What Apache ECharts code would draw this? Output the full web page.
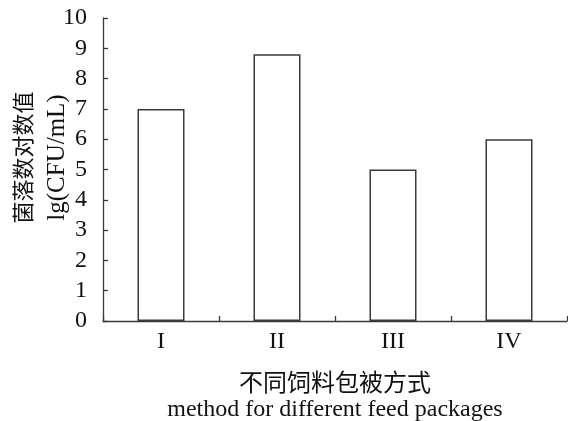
<!DOCTYPE html>
<html>
<head>
<meta charset="utf-8">
<script src="https://cdn.jsdelivr.net/npm/echarts@6/dist/echarts.min.js"></script>
<style>html,body{margin:0;padding:0;background:#fff;}#c{width:568px;height:421px;}</style>
</head>
<body>
<div id="c"></div>
<script>
var categories = ['I', 'II', 'III', 'IV'];
var values = [7.0, 8.8, 5.0, 6.0];
var yTicks = { min: 0, max: 10, interval: 1 };
var xNameCn = '不同饲料包被方式';
var xNameEn = 'method for different feed packages';
var yNameCn = '菌落数对数值';
var yNameEn = 'lg(CFU/mL)';

var font = "'Liberation Serif', 'Times New Roman', 'Noto Sans CJK SC', serif";
var lineColor = '#3a3a3a';
var chart = echarts.init(document.getElementById('c'));
chart.setOption({
  animation: false,
  backgroundColor: '#fff',
  grid: { left: 103, right: 1, top: 18, bottom: 100, containLabel: false, outerBoundsMode: 'none' },
  xAxis: {
    type: 'category',
    data: categories,
    boundaryGap: true,
    axisLine: { lineStyle: { color: lineColor, width: 1.3 } },
    axisTick: { show: true, inside: true, length: 5, lineStyle: { color: lineColor, width: 1.3 } },
    axisLabel: { margin: 9, fontFamily: font, fontSize: 24, color: '#111' },
    name: '{a|' + xNameCn + '}\n{b|' + xNameEn + '}',
    nameLocation: 'middle',
    nameGap: 51,
    nameMoveOverlap: false,
    nameTextStyle: {
      fontFamily: font, color: '#111',
      rich: {
        a: { fontFamily: font, fontSize: 24, lineHeight: 25, color: '#111' },
        b: { fontFamily: font, fontSize: 24, lineHeight: 25, color: '#111' }
      }
    }
  },
  yAxis: {
    type: 'value',
    min: yTicks.min,
    max: yTicks.max,
    interval: yTicks.interval,
    splitLine: { show: false },
    axisLine: { show: true, lineStyle: { color: lineColor, width: 1.3 } },
    axisTick: { show: true, inside: true, length: 5, lineStyle: { color: lineColor, width: 1.3 } },
    axisLabel: { margin: 16, fontFamily: font, fontSize: 24, color: '#111' },
    name: '{a|' + yNameCn + '}\n{b|' + yNameEn + '}',
    nameLocation: 'middle',
    nameRotate: 90,
    nameGap: 30,
    nameMoveOverlap: false,
    nameTextStyle: {
      fontFamily: font, color: '#111', padding: [0, 0, 0, 24],
      rich: {
        a: { fontFamily: font, fontSize: 22, lineHeight: 32, color: '#111' },
        b: { fontFamily: font, fontSize: 25, lineHeight: 32, color: '#111' }
      }
    }
  },
  series: [{
    type: 'bar',
    data: values,
    barWidth: 47,
    itemStyle: { color: '#fff', borderColor: lineColor, borderWidth: 1.5 }
  }]
});
</script>
</body>
</html>
